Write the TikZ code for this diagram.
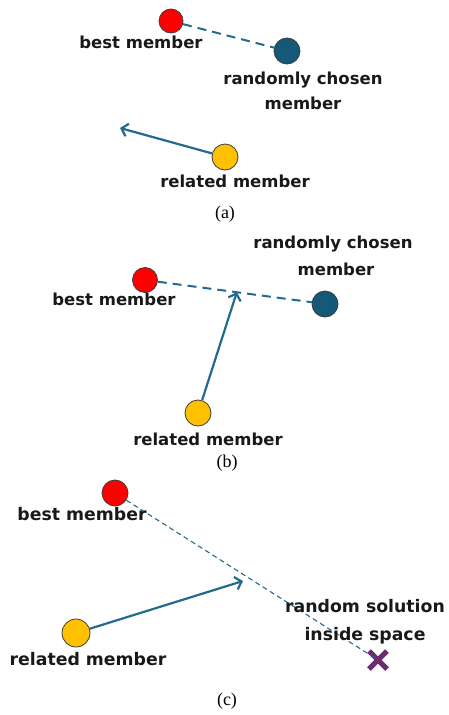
\documentclass[tikz,border=0pt]{standalone}
\usepackage{fontspec}
\setmainfont{Liberation Serif}
\newfontfamily\lblfont{DejaVu Sans}
\usetikzlibrary{arrows.meta,shapes.misc,calc}
\definecolor{lc}{RGB}{36,106,142}
\definecolor{outl}{RGB}{60,60,60}
\definecolor{redc}{RGB}{255,0,0}
\definecolor{bluec}{RGB}{22,88,120}
\definecolor{yelc}{RGB}{255,192,0}
\definecolor{purc}{RGB}{106,45,112}
\definecolor{txt}{RGB}{25,25,25}
\tikzset{
  dot/.style={circle, draw=outl, line width=0.8pt, inner sep=0pt, minimum size=26pt},
  lbl/.style={font=\lblfont\bfseries\fontsize{16.5}{20}\selectfont, anchor=base, text=txt, inner sep=0pt},
  lblc/.style={lbl, font=\lblfont\bfseries\fontsize{17.3}{20}\selectfont},
  captxt/.style={font=\fontsize{18}{20}\selectfont, anchor=center, inner sep=0pt},
  arr/.style={draw=lc, line width=2.2pt, -{Straight Barb[length=6pt,width=13pt]}},
  dashA/.style={draw=lc, line width=2pt, dash pattern=on 9pt off 6pt},
  dashC/.style={draw=lc, line width=1.1pt, dash pattern=on 5pt off 3.5pt},
}
\begin{document}
\begin{tikzpicture}[x=1pt,y=-1pt]
\useasboundingbox (0,0) rectangle (449,715);
% ---------- (a)
\node[dot, fill=redc, minimum size=24pt] (ra) at (171,21) {};
\node[dot, fill=bluec] (ba) at (287,51) {};
\node[dot, fill=yelc] (ya) at (225,157) {};
\coordinate (ta) at (120,128);
\draw[dashA] (ra) -- (ba);
\draw[arr] (ya) -- (ta);
\node[lbl] (la1) at (141,48) {best member};
\node[lbl] (la2) at (303,84) {randomly chosen};
\node[lbl] (la3) at (303,109) {member};
\node[lbl] (la4) at (235,187) {related member};
\node[captxt] (ca) at (225,214) {(a)};
% ---------- (b)
\node[dot, fill=redc, minimum size=25pt] (rb) at (145,280) {};
\node[dot, fill=bluec] (bb) at (325,304) {};
\node[dot, fill=yelc] (yb) at (198,413) {};
\coordinate (mb) at ($(rb)!0.51!(bb)$);
\draw[dashA] (rb) -- (bb);
\draw[arr] (yb) -- (mb);
\node[lbl] (lb1) at (114,305) {best member};
\node[lbl] (lb2) at (333,248) {randomly chosen};
\node[lbl] (lb3) at (336,275) {member};
\node[lbl] (lb4) at (208,445) {related member};
\node[captxt] (cb) at (227,463) {(b)};
% ---------- (c)
\node[dot, fill=redc] (rc) at (115,493) {};
\node[dot, fill=yelc, minimum size=28pt] (yc) at (76,633) {};
\node[cross out, draw=purc, line width=5pt, minimum size=13pt, inner sep=0pt] (xc) at (378,660) {};
\coordinate (tc) at (243,581);
\draw[dashC] (rc) -- (xc.center);
\draw[arr] (yc) -- (tc);
\node[lblc] (lc1) at (82,520) {best member};
\node[lblc] (lc2) at (88,665) {related member};
\node[lblc] (lc3) at (365,612) {random solution};
\node[lblc] (lc4) at (365,640) {inside space};
\node[captxt] (cc) at (227,701) {(c)};
\end{tikzpicture}
\end{document}
